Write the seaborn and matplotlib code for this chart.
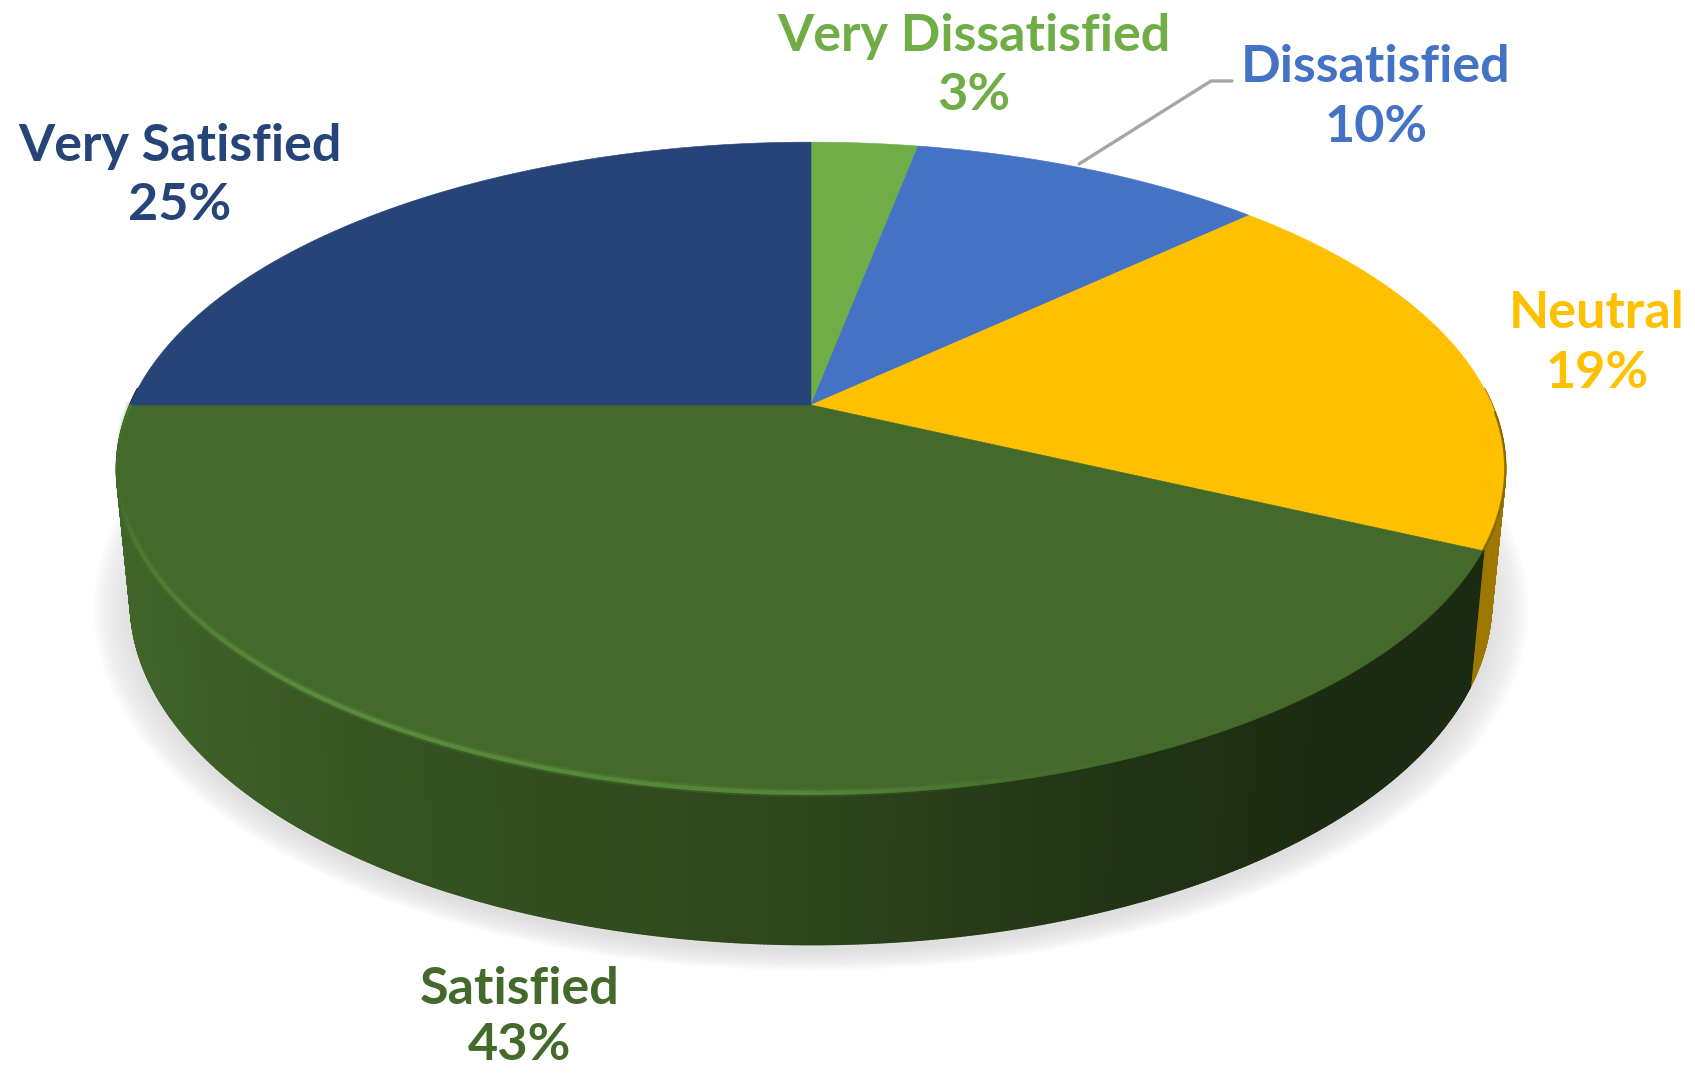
import numpy as np
import matplotlib
matplotlib.use("Agg")
import matplotlib.pyplot as plt
from matplotlib.collections import LineCollection, PolyCollection
import seaborn as sns

categories = ["Very Dissatisfied", "Dissatisfied", "Neutral", "Satisfied", "Very Satisfied"]
shares = [3, 10, 19, 43, 25]
hex_colors = ["#70AD47", "#4472C4", "#FFC000", "#446A2B", "#264478"]
label_x = [974, 1376, 1597, 520, 180]
label_y = [36, 68, 314, 990, 146]
label_gap = [60, 60, 60, 56, 60]

W, H = 1695, 1077
CX, CY = 811, 405
K, A, B = 0.1945, 681, 314
SX, SY, DROP = 0.98, 1.05, 130


def project(x, y):
    d = 1 + K * y
    return CX + A * x / d, CY - B * y / d


def lower(X, Y):
    return CX + (X - CX) * SX, CY + (Y - CY) * SY + DROP


sns.set_theme(style="white")
plt.rcParams["font.family"] = ["Lato", "DejaVu Sans"]
palette = sns.color_palette(hex_colors)

fig = plt.figure(figsize=(W / 100, H / 100), dpi=100, facecolor="white")
ax = fig.add_axes([0, 0, 1, 1])
wedges, _ = ax.pie(shares, colors=palette, startangle=90, counterclock=False, radius=1)
ax.set_aspect("auto")
ax.set_xlim(0, W)
ax.set_ylim(H, 0)
ax.set_axis_off()

spans = [(min(w.theta1, w.theta2), max(w.theta1, w.theta2), w.get_facecolor()[:3]) for w in wedges]
for w in wedges:
    w.remove()

# soft shadow under the disc
tt = np.radians(np.linspace(0, 360, 361))
sx, sy = project(np.cos(tt), np.sin(tt))
bx, by = lower(sx, sy)
for i in range(24):
    grow = 1.0 + 0.0024 * (23 - i)
    ax.fill(CX + (bx - CX) * grow, by.mean() + 6 + (by - by.mean()) * grow,
            color="#707070", alpha=0.008, lw=0, zorder=1)

# side wall
shade_x = [115, 400, 800, 1100, 1300, 1510]
shade_v = [0.95, 0.78, 0.66, 0.50, 0.42, 0.40]
quads, quad_colors = [], []
order = [s for s in spans if s[2] != spans[3][2]] + [spans[3]]
for lo, hi, col in order:
    th = np.radians(np.arange(lo, hi + 0.25, 0.25))
    px, py = project(np.cos(th), np.sin(th))
    qx, qy = lower(px, py)
    is_green = col == spans[3][2]
    for i in range(len(th) - 1):
        if np.sin(th[i]) > 0.05 and np.sin(th[i + 1]) > 0.05:
            continue
        f = np.interp(px[i], shade_x, shade_v) if is_green else 0.62
        c = tuple(v * f for v in col)
        quads.append([(px[i], py[i]), (px[i + 1], py[i + 1]), (qx[i + 1], qy[i + 1]), (qx[i], qy[i])])
        quad_colors.append(c)
ax.add_collection(PolyCollection(quads, facecolors=quad_colors, edgecolors=quad_colors, linewidths=1.5, zorder=2))

# top face
for lo, hi, col in spans:
    th = np.radians(np.linspace(lo, hi, 240))
    px, py = project(np.cos(th), np.sin(th))
    ax.fill(np.r_[CX, px], np.r_[CY, py], color=col, lw=0.4, zorder=3)

# bevel highlight on the front rim
lo, hi, col = spans[3]
th = np.radians(np.linspace(lo, hi, 400))
px, py = project(np.cos(th), np.sin(th))
segs = [[(px[i], py[i] - 2), (px[i + 1], py[i + 1] - 2)] for i in range(len(th) - 1)]
fade = np.interp(px[:-1], [115, 135, 300, 800, 1000, 1150], [0.0, 0.35, 0.75, 0.6, 0.12, 0.0])
for lw, mul in [(6.0, 0.3), (3.0, 0.9)]:
    rgba = [(0.38, 0.60, 0.26, a * mul) for a in fade]
    ax.add_collection(LineCollection(segs, colors=rgba, linewidths=lw, zorder=4))

# dark fringe on the right of the yellow slice
lo, hi, col = spans[2]
th = np.radians(np.linspace(lo, lo + 24, 80))
px, py = project(np.cos(th), np.sin(th))
segs = [[(px[i], py[i]), (px[i + 1], py[i + 1])] for i in range(len(th) - 1)]
ax.add_collection(LineCollection(segs, colors=[(0.45, 0.34, 0.0, 0.8)], linewidths=1.6, zorder=4))

# labels
for name, share, col, x, y, gap in zip(categories, shares, palette, label_x, label_y, label_gap):
    ax.text(x, y, name, color=col, ha="center", va="center", fontsize=37.5, fontweight="bold", zorder=6)
    ax.text(x, y + gap, f"{share}%", color=col, ha="center", va="center", fontsize=37.5, fontweight="bold", zorder=6)

# leader line for the Dissatisfied label
ax.plot([1079, 1211, 1232], [164, 81, 81], color="#A6A6A6", lw=2.4, zorder=5, solid_joinstyle="miter")

fig.savefig("out.png", dpi=100, facecolor="white")
